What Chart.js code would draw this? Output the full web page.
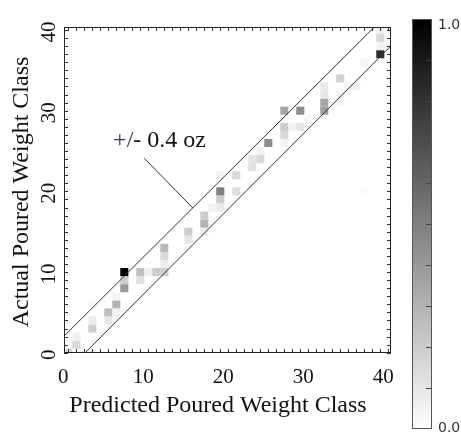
<!DOCTYPE html>
<html>
<head>
<meta charset="utf-8">
<title>Actual vs predicted poured weight class</title>
<script src="https://cdn.jsdelivr.net/npm/chart.js@4.4.1/dist/chart.umd.min.js"></script>
<style>
  html, body { margin: 0; padding: 0; background: #fff; }
  #wrap { width: 461px; height: 434px; }
</style>
</head>
<body>
<div id="wrap"><canvas id="confChart" width="461" height="434"></canvas></div>
<script>
// Confusion cells: predicted class (x), actual class (y), normalised share (0..1)
const cellX = [0, 1, 1, 3, 3, 3, 5, 5, 6, 6, 6, 7, 7, 7, 9, 9, 10, 11, 12, 12, 12, 12,
               15, 15, 15, 17, 17, 17, 18, 19, 19, 19, 19, 21, 21, 23, 23, 23, 24, 24, 25,
               27, 27, 27, 27, 27, 28, 29, 29, 30, 32, 32, 32, 32, 34, 34, 34, 35, 36, 37, 37,
               39, 39, 39, 39, 40];
const cellY = [0, 1, 2, 3, 4, 6, 4, 5, 5, 6, 7, 8, 9, 10, 9, 10, 10, 10, 10, 11, 12, 13,
               13, 14, 15, 15, 16, 17, 18, 18, 19, 20, 22, 20, 22, 21, 23, 24, 24, 25, 26,
               26, 27, 28, 29, 30, 28, 28, 30, 29, 30, 31, 32, 33, 31, 32, 34, 33, 33, 36, 20,
               37, 38, 39, 40, 40];
const cellV = [0.15, 0.15, 0.06, 0.2, 0.08, 0.03, 0.1, 0.25, 0.06, 0.3, 0.04, 0.4, 0.2, 1.0, 0.12, 0.25, 0.06, 0.2, 0.2, 0.07, 0.15, 0.28,
               0.03, 0.1, 0.2, 0.08, 0.3, 0.2, 0.05, 0.08, 0.2, 0.5, 0.05, 0.13, 0.15, 0.03, 0.12, 0.1, 0.15, 0.05, 0.45,
               0.04, 0.15, 0.2, 0.04, 0.35, 0.05, 0.1, 0.45, 0.03, 0.38, 0.35, 0.1, 0.08, 0.03, 0.05, 0.18, 0.05, 0.05, 0.04, 0.02,
               0.82, 0.05, 0.15, 0.06, 0.04];

// Tolerance band (+/- 0.4 oz) edges and the callout leader, in class units
const upperX = [-1, 39];
const upperY = [1.6, 41.1];
const lowerX = [1.5, 41];
const lowerY = [-0.6, 38.7];
const leaderX = [9.5, 15.55];
const leaderY = [24.1, 17.95];

const tickLabels = ['0', '10', '20', '30', '40'];
const colorbarLabels = ['1.0', '0.0'];

const xTitle = 'Predicted Poured Weight Class';
const yTitle = 'Actual Poured Weight Class';

const SERIF = '"Liberation Serif", "Times New Roman", serif';

document.addEventListener('DOMContentLoaded', function() {
    createConfusionChart();
});

function grayFor(v) {
    const g = Math.round(255 * (1 - v));
    return 'rgb(' + g + ',' + g + ',' + g + ')';
}

function cellRadius(chart) {
    const sx = chart.scales.x, sy = chart.scales.y;
    if (!sx || !sy) return 5.7;
    const w = Math.abs(sx.getPixelForValue(1) - sx.getPixelForValue(0));
    const h = Math.abs(sy.getPixelForValue(1) - sy.getPixelForValue(0));
    return Math.max(w, h) / Math.SQRT2;
}

function toPoints(xs, ys) {
    return xs.map((x, i) => ({ x: x, y: ys[i] }));
}

// frame, inward ticks, tick labels, titles, callout text and colour bar
const decorPlugin = {
    id: 'decor',
    afterDraw(chart) {
        const ctx = chart.ctx;
        const a = chart.chartArea;
        const sx = chart.scales.x, sy = chart.scales.y;
        ctx.save();

        // tick marks on all four sides
        ctx.strokeStyle = '#333';
        ctx.lineWidth = 1;
        ctx.beginPath();
        for (let v = 0; v <= 40; v++) {
            const px = Math.round(sx.getPixelForValue(v)) + 0.5;
            ctx.moveTo(px, a.bottom); ctx.lineTo(px, a.bottom - 4);
            ctx.moveTo(px, a.top); ctx.lineTo(px, a.top + 4);
            const py = Math.round(sy.getPixelForValue(v)) + 0.5;
            ctx.moveTo(a.left, py); ctx.lineTo(a.left + 4, py);
            ctx.moveTo(a.right, py); ctx.lineTo(a.right - 4, py);
        }
        ctx.stroke();

        ctx.strokeStyle = '#222';
        ctx.strokeRect(a.left + 0.5, a.top + 0.5, a.width - 1, a.height - 1);

        // tick labels
        ctx.fillStyle = '#111';
        ctx.font = '21px ' + SERIF;
        ctx.textAlign = 'center';
        ctx.textBaseline = 'alphabetic';
        tickLabels.forEach(t => {
            ctx.fillText(t, sx.getPixelForValue(+t) - 5, a.bottom + 30);
        });
        tickLabels.forEach(t => {
            ctx.save();
            ctx.translate(a.left - 9, sy.getPixelForValue(+t) + 2);
            ctx.rotate(-Math.PI / 2);
            ctx.fillText(t, 0, 0);
            ctx.restore();
        });

        // axis titles
        ctx.font = '24px ' + SERIF;
        ctx.fillText(xTitle, 218, 412);
        ctx.save();
        ctx.translate(28, 192);
        ctx.rotate(-Math.PI / 2);
        ctx.fillText(yTitle, 0, 0);
        ctx.restore();

        // callout text next to the band
        ctx.textAlign = 'left';
        const nx = sx.getPixelForValue(5.6), ny = sy.getPixelForValue(25.5);
        ctx.fillStyle = '#4a2a58';
        ctx.fillText('+/', nx, ny);
        const w = ctx.measureText('+/').width;
        ctx.fillStyle = '#111';
        ctx.fillText('- 0.4 oz', nx + w, ny);

        // colour bar
        const cbL = 412, cbT = 19, cbW = 20, cbH = 410;
        const grad = ctx.createLinearGradient(0, cbT, 0, cbT + cbH);
        grad.addColorStop(0, grayFor(1));
        grad.addColorStop(1, grayFor(0));
        ctx.fillStyle = grad;
        ctx.fillRect(cbL, cbT, cbW, cbH);
        ctx.strokeStyle = '#555';
        ctx.strokeRect(cbL + 0.5, cbT + 0.5, cbW - 1, cbH - 1);
        ctx.strokeStyle = '#444';
        ctx.beginPath();
        for (let k = 1; k < 10; k++) {
            const py = Math.round(cbT + cbH * k / 10) + 0.5;
            ctx.moveTo(cbL + cbW - 1, py);
            ctx.lineTo(cbL + cbW - 6, py);
        }
        ctx.stroke();
        ctx.fillStyle = '#333';
        ctx.font = '14px "DejaVu Sans", sans-serif';
        ctx.fillText(colorbarLabels[0], cbL + 26, cbT + 10);
        ctx.fillText(colorbarLabels[1], cbL + 26, cbT + cbH + 3);

        ctx.restore();
    }
};

function createConfusionChart() {
    const ctx = document.getElementById('confChart');
    if (!ctx) return;

    const cells = cellX.map((x, i) => ({ x: x, y: cellY[i], v: cellV[i] }));

    const lineStyle = {
        type: 'line',
        showLine: true,
        borderColor: '#333',
        borderWidth: 1,
        pointRadius: 0,
        fill: false,
        tension: 0,
        clip: 0,
        order: 0
    };

    new Chart(ctx, {
        type: 'scatter',
        data: {
            datasets: [
                {
                    label: 'cells',
                    data: cells,
                    pointStyle: 'rect',
                    pointRadius: c => cellRadius(c.chart),
                    pointHoverRadius: c => cellRadius(c.chart),
                    pointBorderWidth: 0,
                    pointBackgroundColor: c => grayFor(c.raw ? c.raw.v : 0),
                    clip: 0,
                    order: 1
                },
                Object.assign({ label: 'upper', data: toPoints(upperX, upperY) }, lineStyle),
                Object.assign({ label: 'lower', data: toPoints(lowerX, lowerY) }, lineStyle),
                Object.assign({ label: 'leader', data: toPoints(leaderX, leaderY), clip: false }, lineStyle, { clip: false })
            ]
        },
        options: {
            responsive: false,
            animation: false,
            events: [],
            layout: { padding: { left: 64, right: 70, top: 27, bottom: 81 } },
            plugins: {
                legend: { display: false },
                tooltip: { enabled: false }
            },
            scales: {
                x: { type: 'linear', display: false, min: -0.54, max: 40.34 },
                y: { type: 'linear', display: false, min: -0.03, max: 40.37 }
            }
        },
        plugins: [decorPlugin]
    });
}
</script>
</body>
</html>
